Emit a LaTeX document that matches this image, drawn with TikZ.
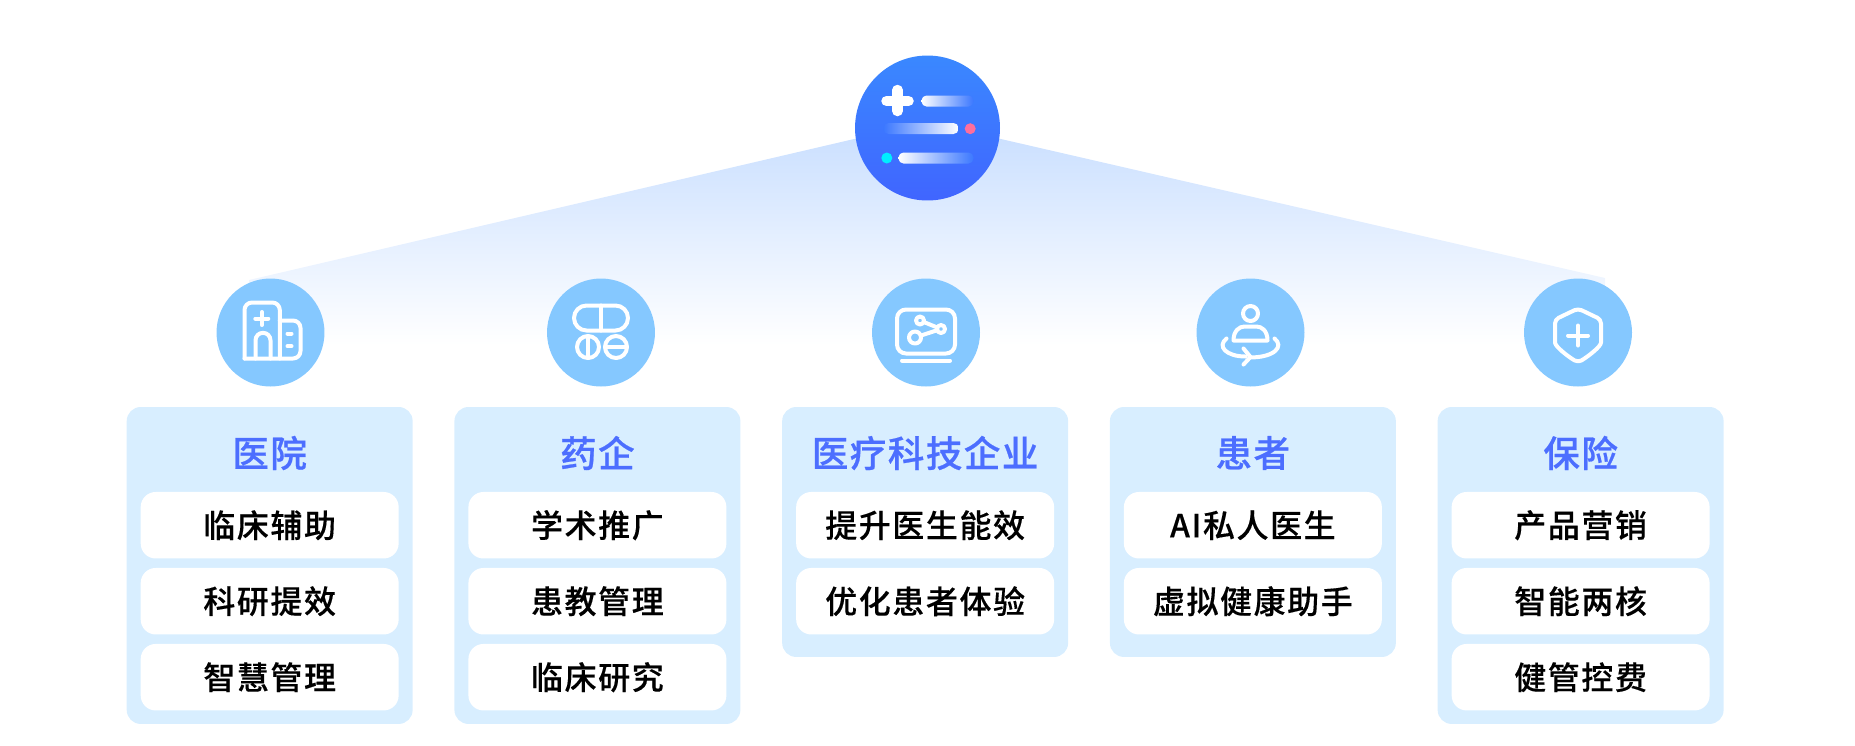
\documentclass[tikz,border=0pt]{standalone}
\usepackage{fontspec}
\usetikzlibrary{positioning}
\newfontfamily\cjk[LetterSpace=5,FakeBold=0.3]{Noto Sans CJK SC Medium}
\newfontfamily\cjktitle[LetterSpace=4,FakeBold=0.6]{Noto Sans CJK SC Medium}
\definecolor{panelblue}{HTML}{D8EEFF}
\definecolor{titleblue}{HTML}{4C6EFF}
\definecolor{iconblue}{HTML}{85C8FF}
\definecolor{fanblue}{HTML}{C8DEFF}
\definecolor{logotop}{HTML}{3A88FF}
\definecolor{logobottom}{HTML}{4065FF}
\definecolor{logomid}{HTML}{3C78FF}
\tikzstyle{panel} = [rectangle, rounded corners=0.28cm, minimum width=5.72cm, minimum height=6.34cm, fill=panelblue, anchor=north west, inner sep=0, outer sep=0]
\tikzstyle{panelshort} = [panel, minimum height=5cm]
\tikzstyle{paneltitle} = [font=\cjktitle\fontsize{20.8pt}{24pt}\selectfont, text=titleblue, inner sep=0]
\tikzstyle{card} = [rectangle, rounded corners=0.3cm, minimum width=5.16cm, minimum height=1.33cm, fill=white, text=black, inner sep=0, outer sep=0, font=\cjk\fontsize{18.2pt}{22pt}\selectfont]
\tikzstyle{badge} = [circle, minimum size=2.16cm, fill=iconblue, inner sep=0]
\tikzstyle{glyph} = [draw=white, line width=0.08cm, line cap=round, line join=round]
\begin{document}
\begin{tikzpicture}[x=0.02cm, y=-0.02cm]
  \useasboundingbox (0,0) rectangle (1855,745);

  % fan behind the badges
  \shade[top color=fanblue, bottom color=white] (927,122) -- (1605,278) -- (1605,345) -- (249,345) -- (249,280) -- cycle;

  % top logo
  \node (logo) [circle, minimum size=2.9cm, inner sep=0, top color=logotop, bottom color=logobottom] at (927.5,128) {};
  \begin{scope}[shift={(logo.center)}]
    \draw[white, line width=0.21cm, line cap=round] (-30,-38) -- (-30,-17) (-41,-27) -- (-19,-27);
    \shade[rounded corners=0.1cm, left color=white, right color=logomid] (-6,-32.5) rectangle (46,-21.5);
    \shade[rounded corners=0.1cm, left color=logomid, right color=white] (-44,-5) rectangle (31,6);
    \shade[rounded corners=0.1cm, left color=white, right color=logomid] (-29,24.5) rectangle (46,35.5);
    \fill[fill={rgb,255:red,255;green,110;blue,156}] (42.7,0.7) circle (5.5);
    \fill[fill={rgb,255:red,0;green,238;blue,255}] (-40.7,30) circle (5.5);
  \end{scope}

  % hospital
  \node (pan1) [panel] at (126.7,407) {};
  \node (title1) [paneltitle] at ([yshift=-0.92cm]pan1.north) {医院};
  \node (card11) [card, below=1.7cm of pan1.north, anchor=north] {临床辅助};
  \node (card12) [card, below=0.19cm of card11] {科研提效};
  \node (card13) [card, below=0.19cm of card12] {智慧管理};
  \node (badge1) [badge] at (270.5,332.5) {};
  \begin{scope}[shift={(badge1.center)}]
    \draw[glyph, rounded corners=0.15cm] (-26,26) -- (-26,-30) -- (9.3,-30) -- (9.3,26);
    \draw[glyph, rounded corners=0.15cm] (9.3,-12) -- (30,-12) -- (30,26) -- (-26,26);
    \draw[glyph, rounded corners=0.15cm] (-15,26) -- (-15,0.3) -- (0,0.3) -- (0,26);
    \draw[glyph] (-8.7,-20.5) -- (-8.7,-7.5) (-15.2,-14) -- (-2.2,-14);
    \draw[glyph] (17,1) -- (21,1) (17,13.7) -- (21,13.7);
  \end{scope}

  % pharma
  \node (pan2) [panel, right=0.836cm of pan1.north east, anchor=north west] {};
  \node (title2) [paneltitle] at ([yshift=-0.92cm]pan2.north) {药企};
  \node (card21) [card, below=1.7cm of pan2.north, anchor=north] {学术推广};
  \node (card22) [card, below=0.19cm of card21] {患教管理};
  \node (card23) [card, below=0.19cm of card22] {临床研究};
  \node (badge2) [badge] at (601,332.5) {};
  \begin{scope}[shift={(badge2.center)}]
    \draw[glyph, rounded corners=0.25cm] (-27,-27) rectangle (27,-2);
    \draw[glyph] (0,-27) -- (0,-2);
    \draw[glyph] (-13,14.5) circle (11);
    \draw[glyph] (15,14.5) circle (11);
    \draw[glyph] (-13,3.5) -- (-13,25.5);
    \draw[glyph] (4,14.5) -- (26,14.5);
  \end{scope}

  % medtech
  \node (pan3) [panelshort, right=0.836cm of pan2.north east, anchor=north west] {};
  \node (title3) [paneltitle] at ([yshift=-0.92cm]pan3.north) {医疗科技企业};
  \node (card31) [card, below=1.7cm of pan3.north, anchor=north] {提升医生能效};
  \node (card32) [card, below=0.19cm of card31] {优化患者体验};
  \node (badge3) [badge] at (926,332.5) {};
  \begin{scope}[shift={(badge3.center)}]
    \draw[glyph, rounded corners=0.18cm] (-29,-23) rectangle (29,21);
    \draw[glyph] (-24,28) -- (24,28);
    \draw[glyph] (-6,-12) circle (4);
    \draw[glyph] (15,-3.5) circle (4);
    \draw[glyph] (-11,5) circle (6);
    \draw[glyph] (-2.3,-10.5) -- (11.3,-5);
    \draw[glyph] (-5.3,3.1) -- (11.2,-2.3);
  \end{scope}

  % patient
  \node (pan4) [panelshort, right=0.836cm of pan3.north east, anchor=north west] {};
  \node (title4) [paneltitle] at ([yshift=-0.92cm]pan4.north) {患者};
  \node (card41) [card, below=1.7cm of pan4.north, anchor=north] {AI私人医生};
  \node (card42) [card, below=0.19cm of card41] {虚拟健康助手};
  \node (badge4) [badge] at (1250.5,332.5) {};
  \begin{scope}[shift={(badge4.center)}]
    \draw[glyph] (0,-19) circle (7.5);
    \draw[glyph] (-17,8) .. controls (-17,-2) and (-11,-6) .. (-6,-6) -- (6,-6) .. controls (11,-6) and (17,-2) .. (17,8) -- cycle;
    \draw[glyph] (-24,6) .. controls (-34,14) and (-24,24) .. (-5,24);
    \draw[glyph] (24,6) .. controls (34,14) and (24,25) .. (-1,25);
    \draw[glyph] (-7,16) -- (0,24.5) -- (-7,32);
  \end{scope}

  % insurance
  \node (pan5) [panel, right=0.836cm of pan4.north east, anchor=north west] {};
  \node (title5) [paneltitle] at ([yshift=-0.92cm]pan5.north) {保险};
  \node (card51) [card, below=1.7cm of pan5.north, anchor=north] {产品营销};
  \node (card52) [card, below=0.19cm of card51] {智能两核};
  \node (card53) [card, below=0.19cm of card52] {健管控费};
  \node (badge5) [badge] at (1578,332.5) {};
  \begin{scope}[shift={(badge5.center)}]
    \draw[glyph, rounded corners=0.08cm] (0,-24) -- (23,-13) -- (23,6) .. controls (23,14) and (10,24) .. (0,30) .. controls (-10,24) and (-23,14) .. (-23,6) -- (-23,-13) -- cycle;
    \draw[glyph] (0,-7) -- (0,13) (-10,3) -- (10,3);
  \end{scope}
\end{tikzpicture}
\end{document}
